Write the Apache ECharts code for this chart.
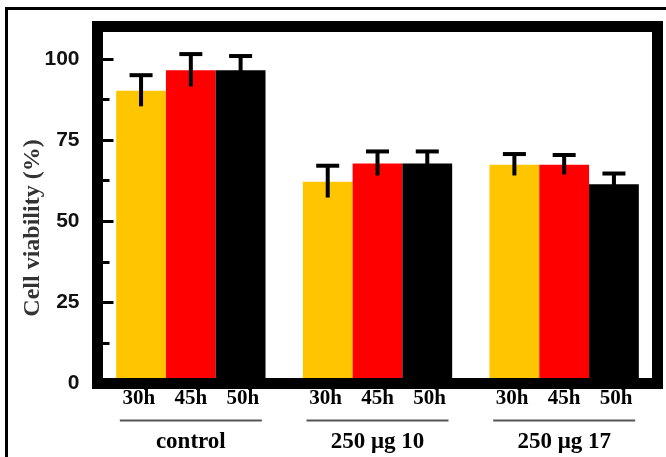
<!DOCTYPE html>
<html><head><meta charset="utf-8">
<script src="https://cdn.jsdelivr.net/npm/echarts@6/dist/echarts.min.js"></script>
<style>
html,body{margin:0;padding:0;background:#fff;}
#frame{position:absolute;left:5px;top:7px;width:661px;height:450px;border-left:3px solid #000;border-top:3px solid #000;box-sizing:border-box;}
#chart{position:absolute;left:0;top:0;width:666px;height:457px;}
</style></head><body>
<div id="frame"></div><div id="chart"></div>
<script>
const groups = ['control', '250 μg 10', '250 μg 17'];
const hours = ['30h', '45h', '50h'];
const v30 = [90.2, 62.2, 67.4];
const v45 = [96.5, 67.8, 67.4];
const v50 = [96.5, 67.8, 61.4];
const e30 = [4.8, 4.9, 3.3];
const e45 = [5.0, 3.7, 3.0];
const e50 = [4.4, 3.7, 3.3];
const yTicks = [0, 25, 50, 75, 100];

const colors = ['#FFC600', '#FF0000', '#000000'];
const vals = [v30, v45, v50];
const errs = [e30, e45, e50];

function errRender(k) {
  return function (params, api) {
    const c = api.value(0), v = api.value(1), e = api.value(2);
    const band = api.size([1, 0])[0];
    const bw = band * 0.8 / 3;
    const x = api.coord([c, v])[0] + (k - 1) * bw;
    const yT = api.coord([c, v + e])[1], yB = api.coord([c, v - e])[1];
    const cap = 23;
    return { type: 'group', children: [
      { type: 'line', shape: { x1: x, y1: yT, x2: x, y2: yB }, style: { stroke: '#000', lineWidth: 4 } },
      { type: 'line', shape: { x1: x - cap / 2, y1: yT, x2: x + cap / 2, y2: yT }, style: { stroke: '#000', lineWidth: 4 } }
    ]};
  };
}

const series = [];
hours.forEach((h, k) => {
  series.push({ type: 'bar', name: h, data: vals[k], barGap: 0, barCategoryGap: '20%',
    itemStyle: { color: colors[k] }, z: 2 });
});
hours.forEach((h, k) => {
  series.push({ type: 'custom', name: h + ' err', renderItem: errRender(k), z: 5, clip: false,
    encode: { x: 0, y: 1 },
    data: groups.map((g, i) => [i, vals[k][i], errs[k][i]]) });
});

const chart = echarts.init(document.getElementById('chart'), null, { renderer: 'canvas' });
chart.setOption({
  animation: false,
  backgroundColor: 'transparent',
  grid: { left: 97.5, top: 26.5, width: 560, height: 357, show: true, borderWidth: 11, borderColor: '#000', backgroundColor: 'transparent', z: 10 },
  xAxis: {
    type: 'category', data: groups,
    axisLine: { show: false }, axisTick: { show: false }, splitLine: { show: false },
    axisLabel: {
      margin: 5, interval: 0,
      formatter: (val) => hours.map(h => '{h|' + h + '}').join('') + '\n{ln| }\n{g|' + val + '}',
      rich: {
        h: { width: 52, align: 'center', fontSize: 21, fontWeight: 'bold', fontFamily: 'Liberation Serif', color: '#000', lineHeight: 20 },
        ln: { width: 142, height: 2, backgroundColor: '#555', lineHeight: 24 },
        g: { fontSize: 23, fontWeight: 'bold', fontFamily: 'Liberation Serif', color: '#000', lineHeight: 20 }
      }
    }
  },
  yAxis: {
    type: 'value', min: 0, max: 110, interval: 25,
    name: 'Cell viability (%)', nameLocation: 'middle', nameGap: 53, nameMoveOverlap: false,
    nameTextStyle: { fontFamily: 'Liberation Serif', fontWeight: 'bold', fontSize: 24, color: '#333', padding: [0, 46, 0, 0] },
    axisLine: { show: false },
    axisTick: { show: true, inside: true, length: 16, lineStyle: { color: '#000', width: 3 } },
    minorTick: { show: true, splitNumber: 2, length: 12, lineStyle: { color: '#000', width: 3 } },
    splitLine: { show: false }, minorSplitLine: { show: false },
    axisLabel: { fontFamily: 'Liberation Sans', fontWeight: 'bold', fontSize: 21, color: '#111', margin: 18,
      showMaxLabel: false, formatter: v => yTicks.includes(v) ? String(v) : '' }
  },
  series: series
});
</script></body></html>
